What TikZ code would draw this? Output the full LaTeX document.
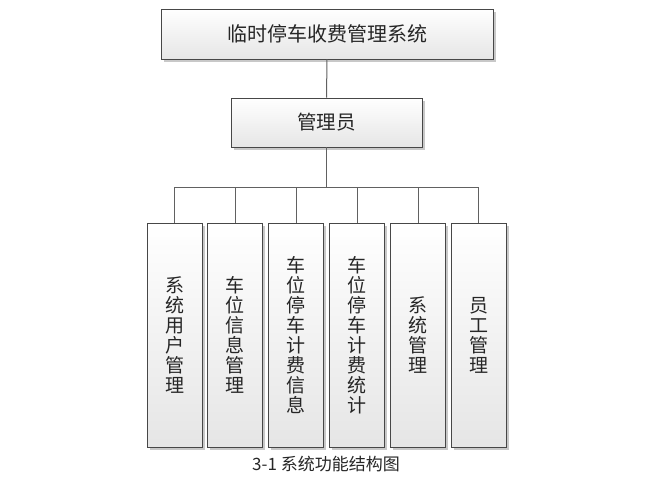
\documentclass[tikz,border=0pt]{standalone}
\usepackage{fontspec}
\newfontfamily\cjk{Noto Sans CJK SC}
\usetikzlibrary{shadows}
\begin{document}
\begin{tikzpicture}[x=1pt,y=-1pt,
  box/.style={draw=black!72, line width=0.9pt, top color=white, bottom color=black!10,
    drop shadow={shadow xshift=2.5pt, shadow yshift=-2.5pt, opacity=0.3, fill=black!70},
    inner sep=0pt, align=center, text=black!85},
  child/.style={box, minimum width=55pt, minimum height=224pt, font=\cjk\fontsize{19}{20}\selectfont},
  link/.style={draw=black!62, line width=1pt}]
\useasboundingbox (0,0) rectangle (670,482);
\fill[white] (0,0) rectangle (670,482);
\node[box, minimum width=332pt, minimum height=50pt, font=\cjk\fontsize{20}{22}\selectfont] (sys) at (327,34) {临时停车收费管理系统};
\node[box, minimum width=191pt, minimum height=49pt, font=\cjk\fontsize{19.5}{22}\selectfont] (admin) at (326.5,122.5) {管理员};
\node[child] (c1) at (174.5,335) {系\\统\\用\\户\\管\\理};
\node[child] (c2) at (235,335) {车\\位\\信\\息\\管\\理};
\node[child] (c3) at (296,335) {车\\位\\停\\车\\计\\费\\信\\息};
\node[child] (c4) at (357,335) {车\\位\\停\\车\\计\\费\\统\\计};
\node[child] (c5) at (418,335) {系\\统\\管\\理};
\node[child] (c6) at (478.5,335) {员\\工\\管\\理};
\coordinate (bus) at (0,187);
\draw[link] (sys.south) -- (admin.north);
\draw[link] (admin.south) -- (admin.south |- bus);
\draw[link] (c1.north) -- (c1.north |- bus) -- (c6.north |- bus) -- (c6.north);
\foreach \c in {c2,c3,c4,c5} \draw[link] (\c.north) -- (\c.north |- bus);
\node[font=\cjk\fontsize{17}{19}\selectfont, text=black!85] (cap) at (326,464) {3-1 系统功能结构图};
\end{tikzpicture}
\end{document}
